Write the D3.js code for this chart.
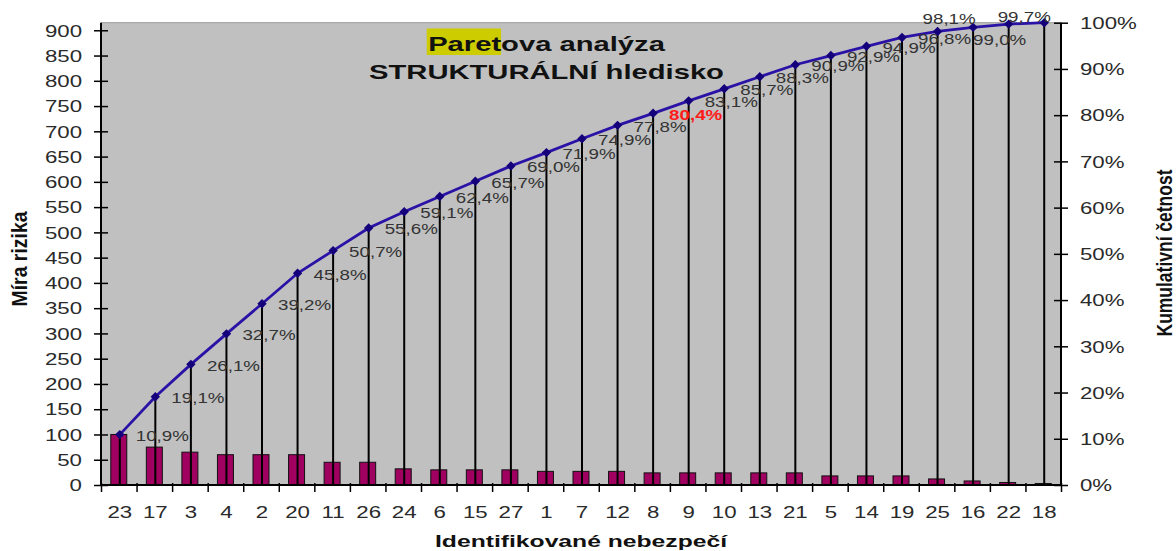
<!DOCTYPE html>
<html>
<head>
<meta charset="utf-8">
<script src="https://cdn.jsdelivr.net/npm/d3@7"></script>
<style>
  html, body { margin: 0; padding: 0; background: #ffffff; }
  svg { display: block; }
  text { font-family: "Liberation Sans", Arial, sans-serif; }
</style>
</head>
<body>
<svg id="chart" width="1176" height="551"></svg>
<script>
// ---- data ----
const categories = ["23","17","3","4","2","20","11","26","24","6","15","27","1","7","12","8","9","10","13","21","5","14","19","25","16","22","18"];
const riskValues = [100,75,65,60,60,60,45,45,32,30,30,30,27,27,27,24,24,24,24,24,18,18,18,12,8,5,3];
const cumulativePct = [10.9,19.1,26.1,32.7,39.2,45.8,50.7,55.6,59.1,62.4,65.7,69.0,71.9,74.9,77.8,80.4,83.1,85.7,88.3,90.9,92.9,94.9,96.8,98.1,99.0,99.7,100];
const labelledCount = 26;          // last point (18) has no label
const highlightIndex = 15;         // 80,4 % in red
const leftTicks = d3.range(0, 901, 50);
const rightTicks = d3.range(0, 11).map(d => d / 10);
const titleLine1 = "Paretova analýza";
const titleHighlight = "Paret";
const titleLine2 = "STRUKTURÁLNÍ hledisko";
const yTitle = "Míra rizika";
const y2Title = "Kumulativní četnost";
const xTitle = "Identifikované nebezpečí";

(function () {
// ---- layout ----
const K = 1.39; // horizontal text stretch of the original
const svg = d3.select("#chart");
const pL = 101, pR = 1061, pT = 22.7, pB = 485;
const total = d3.sum(riskValues);

const x = d3.scaleBand().domain(categories).range([pL, pR]).paddingInner(0.55).paddingOuter(0.275);
const xEdges = d3.scaleLinear().domain([0, categories.length]).range([pL, pR]);
const yL = d3.scaleLinear().domain([0, total]).range([pB, pT]);
const yR = d3.scaleLinear().domain([0, 1]).range([pB, pT]);
const cx = c => x(c) + x.bandwidth() / 2;

// plot background
svg.append("rect").attr("x", pL).attr("y", pT).attr("width", pR - pL).attr("height", pB - pT).attr("fill", "#c0c0c0");
svg.append("line").attr("x1", pL).attr("x2", pR).attr("y1", pT).attr("y2", pT).attr("stroke", "#9a9a9a").attr("stroke-width", 1);

// bars
svg.append("g").selectAll("rect").data(riskValues).join("rect")
  .attr("x", (d, i) => x(categories[i]))
  .attr("y", d => yL(d))
  .attr("width", x.bandwidth())
  .attr("height", d => pB - yL(d))
  .attr("fill", "#a0005f")
  .attr("stroke", "#111")
  .attr("stroke-width", 1);

// drop lines
svg.append("g").selectAll("line").data(cumulativePct).join("line")
  .attr("x1", (d, i) => cx(categories[i]) + 1)
  .attr("x2", (d, i) => cx(categories[i]) + 1)
  .attr("y1", d => yR(d / 100))
  .attr("y2", pB)
  .attr("stroke", "#000")
  .attr("stroke-width", 2);

// cumulative line
const line = d3.line().x((d, i) => cx(categories[i]) + 1).y(d => yR(d / 100));
svg.append("path").datum(cumulativePct).attr("d", line)
  .attr("fill", "none").attr("stroke", "#2a12a6").attr("stroke-width", 2.8);

svg.append("g").selectAll("path").data(cumulativePct).join("path")
  .attr("d", d3.symbol(d3.symbolSquare, 44)())
  .attr("transform", (d, i) => `translate(${cx(categories[i]) + 1},${yR(d / 100)}) rotate(45)`)
  .attr("fill", "#14007a");

// axes
const gL = svg.append("g").attr("transform", `translate(${pL},0)`)
  .call(d3.axisLeft(yL).tickValues(leftTicks).tickSize(7).tickPadding(0));
gL.select(".domain").attr("stroke", "#000").attr("stroke-width", 2).attr("d", `M0,${pT}V${pB}`);
gL.selectAll(".tick line").attr("x1", 7).attr("stroke", "#000").attr("stroke-width", 1.5);
gL.selectAll(".tick text").attr("x", 0).attr("dy", "0.36em")
  .attr("transform", `translate(-19,0) scale(${K},1)`)
  .attr("font-size", 16).attr("fill", "#2a2a2a").attr("text-anchor", "end");

const gR = svg.append("g").attr("transform", `translate(${pR},0)`)
  .call(d3.axisRight(yR).tickValues(rightTicks).tickFormat(d3.format(".0%")).tickSize(7).tickPadding(0));
gR.select(".domain").attr("stroke", "#000").attr("stroke-width", 2).attr("d", `M0,${pT}V${pB}`);
gR.selectAll(".tick line").attr("x1", -7).attr("stroke", "#000").attr("stroke-width", 1.5);
gR.selectAll(".tick text").attr("x", 0).attr("dy", "0.36em")
  .attr("transform", `translate(19,0) scale(${K},1)`)
  .attr("font-size", 16).attr("fill", "#2a2a2a").attr("text-anchor", "start");

const gB = svg.append("g").attr("transform", `translate(0,${pB})`)
  .call(d3.axisBottom(xEdges).tickValues(d3.range(0, categories.length + 1)).tickFormat("").tickSize(7));
gB.select(".domain").attr("stroke", "#000").attr("stroke-width", 2).attr("d", `M${pL},0H${pR}`);
gB.selectAll(".tick line").attr("y1", -2).attr("stroke", "#000").attr("stroke-width", 1.5);

const gX = svg.append("g").attr("transform", `translate(0,${pB})`)
  .call(d3.axisBottom(x).tickSize(0));
gX.select(".domain").remove();
gX.selectAll(".tick").attr("transform", d => `translate(${cx(d) + 1},0)`);
gX.selectAll(".tick text").attr("y", 0).attr("dy", "0.36em")
  .attr("transform", `translate(0,27) scale(${K},1)`)
  .attr("font-size", 16).attr("fill", "#2a2a2a");

// data labels
const fmt = d => d.toFixed(1).replace(".", ",") + "%";
function labelOffset(i) {
  if (i === 23) return [-15, -13];
  if (i === 24) return [0, 12];
  if (i === 25) return [-11, -7];
  return [16, 1];
}
svg.append("g").selectAll("text").data(cumulativePct.slice(0, labelledCount)).join("text")
  .attr("transform", (d, i) => {
    const [dx, dy] = labelOffset(i);
    return `translate(${cx(categories[i]) + 1 + dx},${yR(d / 100) + dy}) scale(1.25,1)`;
  })
  .attr("dy", "0.36em")
  .attr("font-size", 15)
  .attr("font-weight", (d, i) => i === highlightIndex ? "bold" : "normal")
  .attr("fill", (d, i) => i === highlightIndex ? "#ff1a1a" : "#333")
  .text(fmt);

// title
const tg = svg.append("g").attr("transform", `translate(546.5,0) scale(${K},1)`);
const t1 = tg.append("text").attr("x", 0).attr("y", 51.5).attr("text-anchor", "middle")
  .attr("font-size", 21).attr("font-weight", "bold").attr("fill", "#111").text(titleLine1);
const bb = t1.node().getBBox();
const hlW = t1.node().getSubStringLength(0, titleHighlight.length);
tg.insert("rect", "text").attr("x", bb.x - 1).attr("y", 28.5).attr("width", hlW + 1).attr("height", 26.5).attr("fill", "#cccc00");
tg.append("text").attr("x", 0).attr("y", 79.5).attr("text-anchor", "middle")
  .attr("font-size", 21).attr("font-weight", "bold").attr("fill", "#111").text(titleLine2);

// axis titles
svg.append("text")
  .attr("transform", `translate(19,259) rotate(-90) scale(1,1.3)`)
  .attr("text-anchor", "middle").attr("dy", "0.36em")
  .attr("font-size", 17).attr("font-weight", "bold").attr("fill", "#111")
  .attr("textLength", 95).attr("lengthAdjust", "spacingAndGlyphs")
  .text(yTitle);
svg.append("text")
  .attr("transform", `translate(1164,253) rotate(-90) scale(1,1.3)`)
  .attr("text-anchor", "middle").attr("dy", "0.36em")
  .attr("font-size", 17).attr("font-weight", "bold").attr("fill", "#111")
  .attr("textLength", 167).attr("lengthAdjust", "spacingAndGlyphs")
  .text(y2Title);
svg.append("text")
  .attr("x", 581).attr("y", 541).attr("text-anchor", "middle").attr("dy", "0.36em")
  .attr("font-size", 16).attr("font-weight", "bold").attr("fill", "#111")
  .attr("textLength", 292).attr("lengthAdjust", "spacingAndGlyphs")
  .text(xTitle);
})();
</script>
</body>
</html>
